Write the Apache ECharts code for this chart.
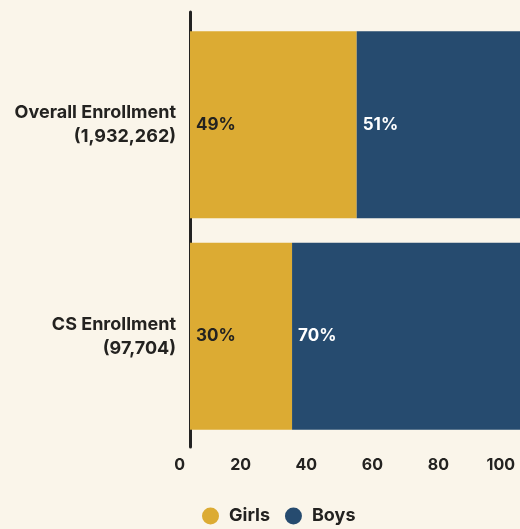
<!DOCTYPE html>
<html><head><meta charset="utf-8">
<script src="https://cdn.jsdelivr.net/npm/echarts@6/dist/echarts.min.js"></script>
<style>html,body{margin:0;padding:0;background:#faf5ea;}#c{width:520px;height:529px;}</style>
</head><body><div id="c"></div>
<script>
const categories = ['Overall Enrollment\n(1,932,262)', 'CS Enrollment\n(97,704)'];
const girls = [49, 30];
const boys = [51, 70];
const tickValues = [0, 20, 40, 60, 80, 100];
const seriesNames = ['Girls', 'Boys'];

const ink = '#232220';
const chart = echarts.init(document.getElementById('c'));
chart.setOption({
  backgroundColor: '#faf5ea',
  textStyle: { fontFamily: 'Inter' },
  legend: {
    data: seriesNames, left: 197, top: 502, icon: 'circle',
    itemWidth: 17, itemHeight: 17, itemGap: 15,
    textStyle: { fontSize: 18, fontWeight: 700, color: ink, fontFamily: 'Inter', padding: [0, 0, 0, 5] }
  },
  grid: [
    { left: 190, right: 0, top: 19, height: 423 },
    { left: 190, right: 0, top: 12, height: 435 }
  ],
  xAxis: [
    { type: 'value', gridIndex: 0, min: 0, max: 100, interval: 20,
      axisLine: { show: false }, axisTick: { show: false }, splitLine: { show: false },
      axisLabel: { align: 'right', padding: [0, 5, 0, 0], margin: 15, fontSize: 16, fontWeight: 700, color: ink,
        showMinLabel: true, showMaxLabel: true, hideOverlap: false,
        formatter: v => tickValues.includes(v) ? String(v) : '' } },
    { type: 'value', gridIndex: 0, min: 0, max: 97, show: false, position: 'top' },
    { type: 'value', gridIndex: 1, show: false }
  ],
  yAxis: [
    { type: 'category', gridIndex: 0, data: categories, inverse: true,
      axisLine: { show: false }, axisTick: { show: false },
      axisLabel: { margin: 14, fontSize: 18, fontWeight: 700, color: ink, lineHeight: 24, align: 'right' } },
    { type: 'category', gridIndex: 1, data: [''],
      axisLine: { show: true, lineStyle: { color: '#222', width: 3 } },
      axisTick: { show: false }, axisLabel: { show: false } }
  ],
  series: [
    { name: 'Girls', type: 'bar', stack: 'a', xAxisIndex: 1, yAxisIndex: 0, data: girls, barWidth: 187,
      itemStyle: { color: '#dcab33' }, silent: true,
      label: { show: true, position: 'insideLeft', distance: 6, formatter: '{c}%', fontSize: 17, fontWeight: 700, color: ink } },
    { name: 'Boys', type: 'bar', stack: 'a', xAxisIndex: 1, yAxisIndex: 0, data: boys, barWidth: 187,
      itemStyle: { color: '#264b6f' }, silent: true,
      label: { show: true, position: 'insideLeft', distance: 6, formatter: '{c}%', fontSize: 17, fontWeight: 700, color: '#ffffff' } }
  ]
});
</script></body></html>
